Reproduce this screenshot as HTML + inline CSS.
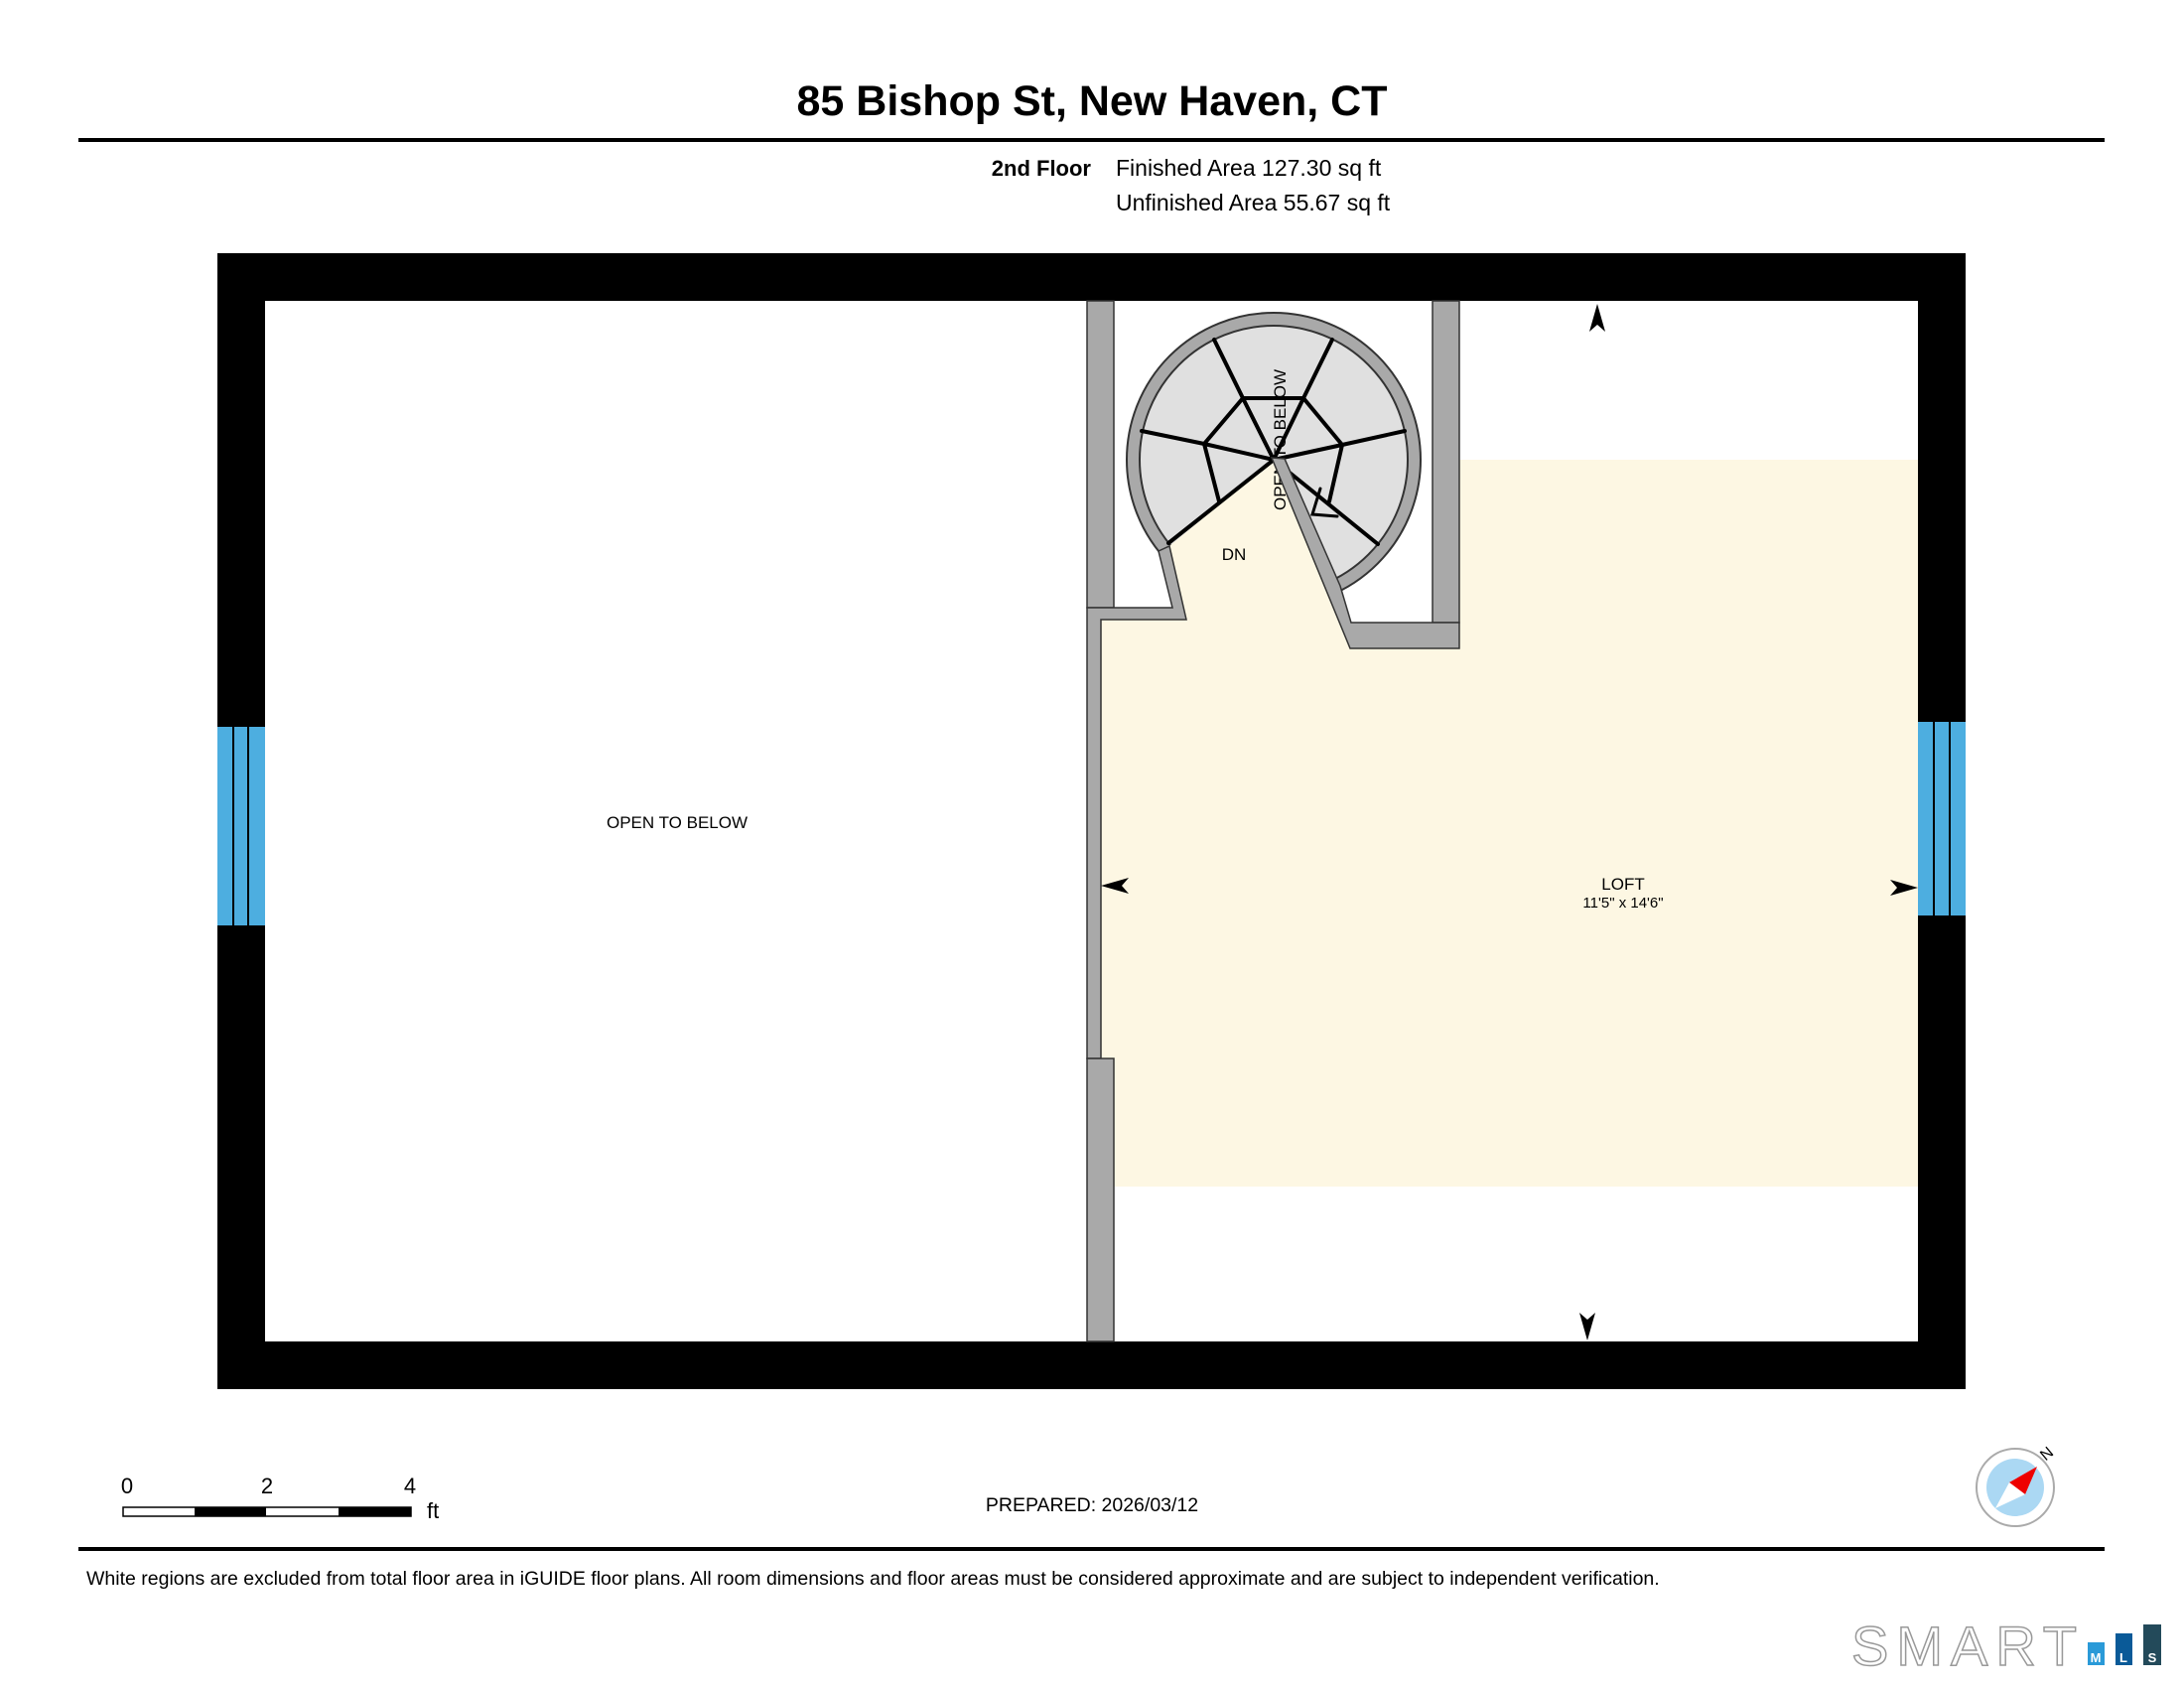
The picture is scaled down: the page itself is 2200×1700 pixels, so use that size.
<!DOCTYPE html>
<html><head><meta charset="utf-8"><style>
html,body{margin:0;padding:0;background:#fff;}
svg{display:block;font-family:"Liberation Sans",Arial,sans-serif;}
</style></head><body>
<svg width="2200" height="1700" viewBox="0 0 2200 1700" xmlns="http://www.w3.org/2000/svg">
<rect width="2200" height="1700" fill="#fff"/>
<text x="1100" y="116" font-size="43" font-weight="bold" text-anchor="middle">85 Bishop St, New Haven, CT</text>
<rect x="79" y="139" width="2041" height="4" fill="#000"/>
<text x="1099" y="177" font-size="22" font-weight="bold" text-anchor="end">2nd Floor</text>
<text x="1124" y="177" font-size="23">Finished Area 127.30 sq ft</text>
<text x="1124" y="212" font-size="23">Unfinished Area 55.67 sq ft</text>

<rect x="219" y="255" width="1761" height="1144" fill="#000"/>
<rect x="267" y="303" width="1665" height="1048" fill="#fff"/>
<!-- windows -->
<rect x="219" y="732" width="48" height="200" fill="#4daee0"/>
<line x1="235" y1="732" x2="235" y2="932" stroke="#000" stroke-width="2"/>
<line x1="250" y1="732" x2="250" y2="932" stroke="#000" stroke-width="2"/>
<rect x="1932" y="727" width="48" height="195" fill="#4daee0"/>
<line x1="1948" y1="727" x2="1948" y2="922" stroke="#000" stroke-width="2"/>
<line x1="1964" y1="727" x2="1964" y2="922" stroke="#000" stroke-width="2"/>

<!-- stair circle -->
<circle cx="1283" cy="463" r="148" fill="#a9a9a9" stroke="#333" stroke-width="2"/>
<circle cx="1283" cy="463" r="135" fill="#e0e0e0" stroke="#333" stroke-width="2"/>
<!-- loft -->
<polygon points="1109,624 1195,624 1178,550 1283,463 1362,653 1470,653 1470,463 1932,463 1932,1195 1109,1195" fill="#fdf7e3"/>
<!-- treads -->
<g stroke="#000" stroke-width="4" fill="none" stroke-linecap="round">
<polyline points="1228,505 1213,447 1252,401 1313,401 1352,448 1339,505"/>
<line x1="1283" y1="463" x2="1213" y2="447"/>
<line x1="1283" y1="463" x2="1252" y2="401"/>
<line x1="1283" y1="463" x2="1313" y2="401"/>
<line x1="1283" y1="463" x2="1352" y2="448"/>
<line x1="1283" y1="463" x2="1177" y2="547"/>
<line x1="1283" y1="463" x2="1388" y2="548"/>
<line x1="1252" y1="401" x2="1223" y2="342"/>
<line x1="1313" y1="401" x2="1342" y2="342"/>
<line x1="1352" y1="448" x2="1415" y2="434"/>
<line x1="1213" y1="447" x2="1150" y2="434"/>
<polyline points="1330,492 1322,518 1347,520" stroke-width="3"/>
</g>
<text transform="translate(1295,443) rotate(-90)" font-size="17" text-anchor="middle">OPEN TO BELOW</text>
<!-- gray walls -->
<g fill="#a9a9a9" stroke="#333" stroke-width="1.5">
<rect x="1095" y="303" width="27" height="309"/>
<polygon points="1095,612 1181,612 1167,555 1178,550 1195,624 1109,624 1109,1066 1095,1066"/>
<rect x="1095" y="1066" width="27" height="285"/>
<rect x="1443" y="303" width="27" height="324"/>
<polygon points="1281,461 1294,462 1350,590 1361,627 1470,627 1470,653 1360,653"/>
</g>
<text x="1243" y="564" font-size="17" text-anchor="middle">DN</text>
<text x="682" y="834" font-size="17" text-anchor="middle">OPEN TO BELOW</text>
<text x="1635" y="896" font-size="17" text-anchor="middle">LOFT</text>
<text x="1635" y="914" font-size="15" text-anchor="middle">11'5" x 14'6"</text>
<!-- arrows -->
<g fill="#000">
<polygon points="1609,306 1617,334 1609,327 1601,334"/>
<polygon points="1599,1350 1591,1322 1599,1329 1607,1322"/>
<polygon points="1109,892 1137,884 1130,892 1137,900"/>
<polygon points="1932,894 1904,886 1911,894 1904,902"/>
</g>
<!-- scale -->
<rect x="124" y="1518" width="290" height="9" fill="#fff" stroke="#000" stroke-width="1.5"/>
<rect x="196" y="1518" width="72" height="9" fill="#000"/>
<rect x="341" y="1518" width="73" height="9" fill="#000"/>
<text x="128" y="1504" font-size="22" text-anchor="middle">0</text>
<text x="269" y="1504" font-size="22" text-anchor="middle">2</text>
<text x="413" y="1504" font-size="22" text-anchor="middle">4</text>
<text x="430" y="1529" font-size="22">ft</text>
<text x="1100" y="1522" font-size="19.5" text-anchor="middle">PREPARED: 2026/03/12</text>
<!-- compass -->
<circle cx="2030" cy="1498" r="39" fill="#fff" stroke="#aaa" stroke-width="2"/>
<circle cx="2030" cy="1498" r="29" fill="#abd8f3"/>
<polygon points="2052,1477 2040,1505 2024,1493" fill="#e00"/>
<polygon points="2010,1519 2024,1493 2040,1505" fill="#fff"/>
<text transform="translate(2065,1468) rotate(-40)" font-size="16" text-anchor="middle">N</text>
<rect x="79" y="1558" width="2041" height="4" fill="#000"/>
<text x="87" y="1596" font-size="19.5">White regions are excluded from total floor area in iGUIDE floor plans. All room dimensions and floor areas must be considered approximate and are subject to independent verification.</text>
<!-- logo -->
<text x="1865" y="1677" font-size="56" fill="#fff" stroke="#999" stroke-width="1.5" letter-spacing="8">SMART</text>
<rect x="2103" y="1654" width="17" height="23" fill="#2a9ad8"/>
<rect x="2131" y="1645" width="17" height="32" fill="#0a5a98"/>
<rect x="2159" y="1636" width="18" height="41" fill="#234a5a"/>
<text x="2111" y="1674" font-size="13" fill="#fff" font-weight="bold" text-anchor="middle">M</text>
<text x="2139" y="1674" font-size="13" fill="#fff" font-weight="bold" text-anchor="middle">L</text>
<text x="2168" y="1674" font-size="13" fill="#fff" font-weight="bold" text-anchor="middle">S</text>
</svg>
</body></html>
